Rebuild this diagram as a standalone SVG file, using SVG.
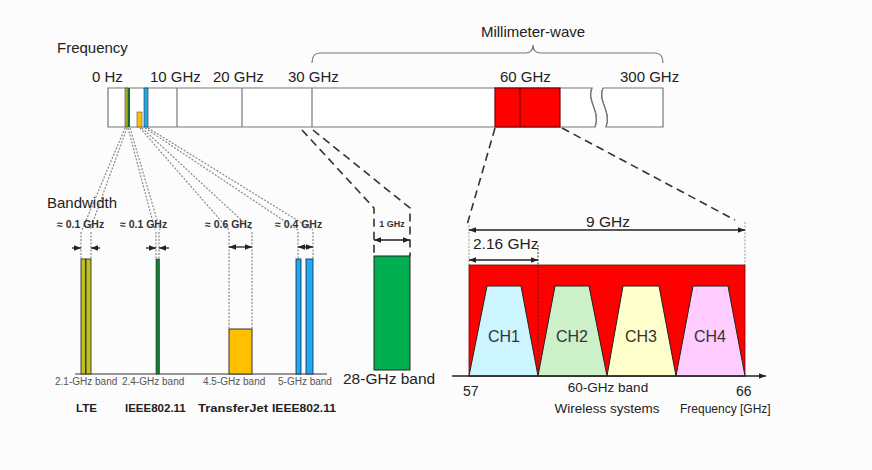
<svg xmlns="http://www.w3.org/2000/svg" width="872" height="470" viewBox="0 0 872 470">
<defs>
<style>
text{font-family:"Liberation Sans",Arial,sans-serif;fill:#222}
.lbl{font-size:15px}
.bw{font-size:10.5px;font-weight:bold;fill:#333}
.band{font-size:10px;fill:#555}
.sys{font-size:11.5px;font-weight:bold;fill:#222}
.ch{font-size:16px;fill:#333;text-anchor:middle}
.dot{stroke:#8a8a8a;stroke-width:1.2;stroke-dasharray:2 1.5;fill:none}
.dash{stroke:#333;stroke-width:1.6;stroke-dasharray:8 5;fill:none}
.arr{stroke:#222;stroke-width:1.3;fill:none}
.bar{stroke:#777;stroke-width:1.2;fill:#fff}
</style>
<marker id="ah" viewBox="0 0 10 10" refX="10" refY="5" markerWidth="7" markerHeight="7" orient="auto-start-reverse" markerUnits="userSpaceOnUse"><path d="M0,1 L10,5 L0,9 z" fill="#222"/></marker>
</defs>
<rect width="872" height="470" fill="#fcfcfc"/>

<g id="frequency-bar">
<text class="lbl" x="57" y="53">Frequency</text>
<text class="lbl" x="92" y="82">0 Hz</text>
<text class="lbl" x="150" y="82">10 GHz</text>
<text class="lbl" x="213" y="82">20 GHz</text>
<text class="lbl" x="288" y="82">30 GHz</text>
<text class="lbl" x="500" y="82">60 GHz</text>
<text class="lbl" x="620" y="82">300 GHz</text>
<path class="bar" d="M595,127 L108,127 L108,88 L592,88 C586,100 601,112 595,127 Z"/>
<path class="bar" d="M603,88 L663,88 L663,127 L606,127 C612,112 597,100 603,88 Z"/>
<path d="M592,88 C586,100 601,112 595,127 M603,88 C597,100 612,112 606,127" stroke="#777" stroke-width="1.2" fill="none"/>
<line x1="177" y1="88" x2="177" y2="127" stroke="#777" stroke-width="1.2"/>
<line x1="242" y1="88" x2="242" y2="127" stroke="#777" stroke-width="1.2"/>
<line x1="312" y1="88" x2="312" y2="127" stroke="#777" stroke-width="1.2"/>
<rect x="495" y="88" width="65" height="39" fill="#ff0000" stroke="#7a0000" stroke-width="1.2"/>
<line x1="520" y1="88" x2="520" y2="127" stroke="#7a0000" stroke-width="1.2"/>
<rect x="125" y="88" width="3" height="39" fill="#a8b020" stroke="#445" stroke-width="0.6"/>
<rect x="128" y="88" width="2" height="39" fill="#1a6a30"/>
<rect x="137" y="112" width="5" height="15" fill="#ffc000" stroke="#555" stroke-width="0.6"/>
<rect x="144" y="88" width="4" height="39" fill="#29a8e0" stroke="#135" stroke-width="0.6"/>
</g>

<g id="millimeter-wave">
<text class="lbl" x="533" y="37" text-anchor="middle">Millimeter-wave</text>
<path d="M312,63 Q312,53 320,53 L525,53 Q533,53 533,45 Q533,53 541,53 L655,53 Q663,53 663,63" stroke="#777" stroke-width="1.2" fill="none"/>
</g>

<g id="connectors">
<path class="dot" d="M125,128 L82,230 M127,128 L90,230"/>
<path class="dot" d="M128,128 L155,230 M130,128 L160,230"/>
<path class="dot" d="M140,128 L229,230 M142,128 L252,230"/>
<path class="dot" d="M145,128 L298,230 M148,128 L313,230"/>
<path class="dash" d="M302,130 L374,208 L374,256"/>
<path class="dash" d="M313,130 L410,208 L410,256"/>
<path class="dash" d="M495,128 L467,225"/>
<path class="dash" d="M562,128 L735,220"/>
</g>

<g id="bandwidth">
<text class="lbl" x="47" y="208">Bandwidth</text>
<text class="bw" x="57" y="228">≈ 0.1 GHz</text>
<text class="bw" x="120" y="228">≈ 0.1 GHz</text>
<text class="bw" x="205" y="228">≈ 0.6 GHz</text>
<text class="bw" x="275" y="228">≈ 0.4 GHz</text>
<line x1="75" y1="374" x2="327" y2="374" stroke="#333" stroke-width="1.2"/>
</g>

<g id="lte">
<path class="dot" d="M81,232 L81,259 M91,232 L91,259"/>
<line class="arr" x1="72" y1="248" x2="81" y2="248" marker-end="url(#ah)"/>
<line class="arr" x1="100" y1="248" x2="91" y2="248" marker-end="url(#ah)"/>
<rect x="81" y="259" width="4.5" height="115" fill="#c0c020" stroke="#333" stroke-width="0.9"/>
<rect x="86" y="259" width="5" height="115" fill="#c0c020" stroke="#333" stroke-width="0.9"/>
<text class="band" x="55" y="385">2.1-GHz band</text>
<text class="sys" x="76" y="412">LTE</text>
</g>

<g id="wifi-24">
<path class="dot" d="M156,232 L156,259 M159,232 L159,259"/>
<line class="arr" x1="146" y1="248" x2="156" y2="248" marker-end="url(#ah)"/>
<line class="arr" x1="169" y1="248" x2="159" y2="248" marker-end="url(#ah)"/>
<rect x="156" y="259" width="3.5" height="115" fill="#1a7a30" stroke="#134" stroke-width="0.6"/>
<text class="band" x="122" y="385">2.4-GHz band</text>
<text class="sys" x="125" y="412">IEEE802.11</text>
</g>

<g id="transferjet">
<path class="dot" d="M229,232 L229,329 M252,232 L252,329"/>
<line class="arr" x1="229" y1="247" x2="252" y2="247" marker-start="url(#ah)" marker-end="url(#ah)"/>
<rect x="229" y="329" width="23" height="45" fill="#ffc000" stroke="#333" stroke-width="1"/>
<text class="band" x="203" y="385">4.5-GHz band</text>
<text class="sys" x="198" y="412" textLength="70" lengthAdjust="spacingAndGlyphs">TransferJet</text>
</g>

<g id="wifi-5">
<path class="dot" d="M298,232 L298,259 M313,232 L313,259"/>
<line class="arr" x1="298" y1="247" x2="313" y2="247" marker-start="url(#ah)" marker-end="url(#ah)"/>
<rect x="296" y="259" width="5" height="115" fill="#22aaee" stroke="#124" stroke-width="0.8"/>
<rect x="306" y="259" width="7" height="115" fill="#22aaee" stroke="#124" stroke-width="0.8"/>
<text class="band" x="278" y="385">5-GHz band</text>
<text class="sys" x="272" y="412" textLength="64" lengthAdjust="spacingAndGlyphs">IEEE802.11</text>
</g>

<g id="band-28">
<text x="392" y="227" text-anchor="middle" style="font-size:9px;font-weight:bold;fill:#333">1 GHz</text>
<line class="arr" x1="374" y1="240" x2="410" y2="240" marker-start="url(#ah)" marker-end="url(#ah)"/>
<rect x="374" y="256" width="36" height="114" fill="#00b050" stroke="#222" stroke-width="1"/>
<text x="343" y="384" style="font-size:15.5px;fill:#222">28-GHz band</text>
</g>

<g id="band-60">
<path d="M469,225 L469,265 M745,222 L745,265" stroke="#999" stroke-width="1" stroke-dasharray="2 1.5"/>
<text x="608" y="227" text-anchor="middle" style="font-size:15.5px">9 GHz</text>
<line class="arr" x1="469" y1="230" x2="745" y2="230" marker-start="url(#ah)" marker-end="url(#ah)"/>
<text x="473" y="249" style="font-size:15.5px">2.16 GHz</text>
<line class="arr" x1="469" y1="260" x2="538" y2="260" marker-start="url(#ah)" marker-end="url(#ah)"/>
<rect x="469" y="265" width="276" height="111" fill="#ff0000" stroke="#700" stroke-width="0.8"/>
<line x1="538" y1="245" x2="538" y2="376" stroke="#333" stroke-width="1" stroke-dasharray="2 1.5"/>
<g id="ch1"><path d="M469,376 L487,286 L521,286 L538,376 Z" fill="#ccf5ff" stroke="#222" stroke-width="1"/><text class="ch" x="504" y="342">CH1</text></g>
<g id="ch2"><path d="M538,376 L555,286 L589,286 L607,376 Z" fill="#ccf0c8" stroke="#222" stroke-width="1"/><text class="ch" x="572" y="342">CH2</text></g>
<g id="ch3"><path d="M607,376 L623,286 L659,286 L676,376 Z" fill="#ffffcc" stroke="#222" stroke-width="1"/><text class="ch" x="641" y="342">CH3</text></g>
<g id="ch4"><path d="M676,376 L693,286 L728,286 L745,376 Z" fill="#ffccff" stroke="#222" stroke-width="1"/><text class="ch" x="710" y="342">CH4</text></g>
<line class="arr" x1="452" y1="376" x2="766" y2="376" marker-end="url(#ah)"/>
<text x="463" y="396" style="font-size:14px">57</text>
<text x="736" y="396" style="font-size:14px">66</text>
<text x="608" y="392" text-anchor="middle" style="font-size:13.5px">60-GHz band</text>
<text x="607" y="413" text-anchor="middle" style="font-size:13.5px">Wireless systems</text>
<text x="680" y="413" style="font-size:12px">Frequency [GHz]</text>
</g>
</svg>
